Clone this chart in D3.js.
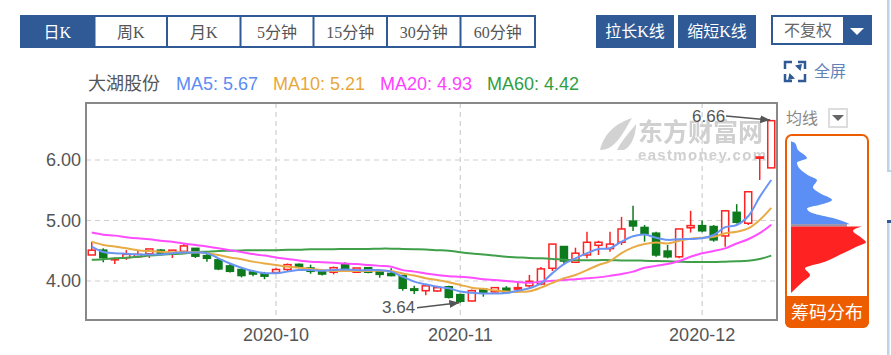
<!DOCTYPE html>
<html>
<head>
<meta charset="utf-8">
<script src="https://cdn.jsdelivr.net/npm/d3@7"></script>
<style>
  html, body { margin: 0; padding: 0; background: #fff; overflow: hidden; }
  svg { display: block; }
  text { font-family: "Liberation Sans", Arial, "Noto Sans CJK SC", sans-serif; }
  .tab text, .btn text { font-family: "Liberation Serif", "Noto Sans CJK SC", serif; font-size: 16px; }
</style>
</head>
<body>
<script>
/***** Data *****/
var tabs = ["日K", "周K", "月K", "5分钟", "15分钟", "30分钟", "60分钟"];
var buttons = ["拉长K线", "缩短K线"];
var legendItems = ["MA5: 5.67", "MA10: 5.21", "MA20: 4.93", "MA60: 4.42"];
var monthTicks = ["2020-10", "2020-11", "2020-12"];
var monthIndex = [16, 32, 53];
var priceTicks = [4, 5, 6];

var opens = [4.43,4.51,4.35,4.385,4.40,4.45,4.51,4.45,4.49,4.54,4.42,4.35,4.25,4.19,4.15,4.12,4.14,4.19,4.275,4.215,
  4.165,4.145,4.275,4.145,4.22,4.165,4.125,4.09,3.87,3.84,3.835,3.905,3.775,3.67,3.865,3.82,3.88,3.865,3.92,3.95,
  4.21,4.57,4.31,4.43,4.59,4.535,4.64,4.99,4.885,4.79,4.495,4.40,4.88,4.915,4.90,4.745,5.135,4.955,6.03,5.87];
var closes = [4.51,4.385,4.37,4.44,4.44,4.53,4.45,4.51,4.58,4.41,4.375,4.20,4.16,4.09,4.115,4.08,4.19,4.27,4.23,4.16,
  4.115,4.22,4.21,4.215,4.145,4.11,4.09,3.88,3.845,3.92,3.89,3.73,3.665,3.84,3.80,3.89,3.81,3.89,3.995,4.20,
  4.61,4.33,4.46,4.64,4.64,4.61,4.86,4.91,4.78,4.43,4.40,4.86,4.915,4.83,4.68,5.16,4.97,5.475,6.05,6.65];
var highs = [4.65,4.54,4.39,4.51,4.50,4.53,4.53,4.51,4.61,4.54,4.46,4.375,4.28,4.21,4.18,4.15,4.21,4.29,4.29,4.27,
  4.18,4.24,4.31,4.215,4.22,4.18,4.21,4.10,3.92,3.92,3.92,3.92,3.79,3.86,3.88,3.89,3.915,3.98,4.10,4.23,
  4.61,4.57,4.55,4.815,4.665,4.815,5.06,5.245,4.925,4.815,4.595,4.86,5.16,5.0,4.925,5.16,5.27,5.475,6.05,6.66];
var lows = [4.43,4.31,4.28,4.35,4.385,4.38,4.42,4.38,4.45,4.38,4.32,4.18,4.14,4.06,4.08,4.03,4.14,4.16,4.21,4.12,
  4.09,4.11,4.155,4.145,4.13,4.055,4.08,3.84,3.785,3.765,3.82,3.71,3.64,3.66,3.74,3.81,3.80,3.85,3.89,3.93,
  4.165,4.265,4.31,4.375,4.43,4.485,4.595,4.825,4.65,4.40,4.375,4.375,4.80,4.805,4.65,4.565,4.95,4.925,5.67,5.87];

var ma5 = [4.57,4.48,4.46,4.45,4.44,4.44,4.44,4.46,4.47,4.47,4.46,4.375,4.29,4.22,4.165,4.13,4.13,4.155,4.18,4.18,
  4.17,4.18,4.19,4.18,4.18,4.18,4.155,4.07,3.99,3.945,3.905,3.88,3.825,3.805,3.795,3.795,3.80,3.84,3.88,3.96,
  4.13,4.28,4.375,4.46,4.53,4.54,4.65,4.74,4.77,4.715,4.68,4.69,4.695,4.705,4.76,4.89,4.925,5.07,5.39,5.67];
var ma10 = [4.65,4.595,4.57,4.54,4.51,4.495,4.485,4.475,4.475,4.475,4.46,4.43,4.39,4.36,4.32,4.29,4.265,4.235,4.22,4.20,
  4.18,4.165,4.165,4.165,4.165,4.17,4.165,4.125,4.09,4.045,4.015,3.98,3.935,3.89,3.87,3.845,3.825,3.82,3.83,3.89,
  3.97,4.045,4.10,4.18,4.265,4.33,4.46,4.555,4.61,4.635,4.62,4.665,4.70,4.715,4.73,4.79,4.815,4.87,5.01,5.21];
var ma20 = [4.80,4.765,4.75,4.725,4.705,4.69,4.665,4.65,4.62,4.595,4.57,4.54,4.51,4.48,4.445,4.42,4.39,4.365,4.34,4.32,
  4.31,4.30,4.29,4.28,4.265,4.25,4.235,4.18,4.155,4.125,4.10,4.08,4.07,4.055,4.03,4.015,4.00,3.985,3.97,3.99,
  4.005,4.015,4.03,4.045,4.06,4.085,4.115,4.155,4.22,4.25,4.28,4.33,4.40,4.46,4.495,4.54,4.62,4.69,4.79,4.93];
var ma60 = [4.35,4.36,4.375,4.385,4.40,4.42,4.435,4.445,4.455,4.475,4.485,4.495,4.50,4.505,4.51,4.51,4.51,4.515,4.515,4.525,
  4.525,4.525,4.53,4.53,4.53,4.535,4.535,4.53,4.525,4.52,4.51,4.50,4.475,4.455,4.44,4.42,4.40,4.39,4.38,4.375,
  4.365,4.35,4.345,4.345,4.345,4.345,4.34,4.34,4.335,4.33,4.325,4.32,4.315,4.315,4.315,4.32,4.325,4.335,4.365,4.42];

// chip distribution: price level and its share
var chipBluePrices = [6.31,6.28,6.165,6.03,5.96,5.85,5.75,5.67,5.55,5.45,5.34,5.26,5.20,5.12,5.04,4.94];
var chipBlueShares = [0,4,7,16,6,9,17,26,22,29,41,29,16,22,42,59];
var chipRedPrices = [4.90,4.83,4.72,4.64,4.57,4.45,4.32,4.21,4.10,3.99,3.80];
var chipRedShares = [71,62,70,75,66,51,34,14,19,12,0];

/***** Configuration *****/
var width = 891, height = 355;
var plot = { left: 86, right: 777, top: 103, bottom: 320 };
var navy = "#2f5a96", upColor = "#ff2020", downColor = "#0a7a1e", orange = "#ee5c00";
var maColors = ["#6a95f5", "#e8ab45", "#ff4dff", "#3f9f4a"];
var legendX = [176, 273, 380, 487];
var legendColors = ["#5b8cf5", "#e8a83a", "#ff40ff", "#2f9e3f"];

var svg = d3.select("body").append("svg").attr("width", width).attr("height", height);
var defs = svg.append("defs");
defs.append("filter").attr("id", "soft").append("feGaussianBlur").attr("stdDeviation", 0.35);
defs.append("filter").attr("id", "softer").append("feGaussianBlur").attr("stdDeviation", 0.7);

/***** Scales *****/
var x = d3.scaleBand().domain(d3.range(opens.length)).range([plot.left, plot.right]);
var y = d3.scaleLinear().domain([4, 6]).range([281, 160]);
var cx = function (i) { return x(i) + x.bandwidth() / 2; };
var chipX = d3.scaleLinear().domain([0, 75]).range([791, 866]);

/***** Tabs and buttons *****/
var tabX = [20, 94.5, 167, 240.5, 313.5, 387, 460.5, 535];
svg.append("rect").attr("x", 20).attr("y", 15).attr("width", 516).attr("height", 33).attr("fill", navy);
var tab = svg.selectAll(".tab").data(tabs).enter().append("g").attr("class", "tab");
tab.append("rect")
  .attr("x", (d, i) => tabX[i] + 1)
  .attr("y", 17)
  .attr("width", (d, i) => tabX[i + 1] - tabX[i] - 2)
  .attr("height", 29)
  .attr("fill", (d, i) => i == 0 ? navy : "#fff");
tab.append("text")
  .attr("x", (d, i) => (tabX[i] + tabX[i + 1]) / 2)
  .attr("y", 38)
  .attr("text-anchor", "middle")
  .attr("fill", (d, i) => i == 0 ? "#fff" : "#555")
  .text(d => d);

var btn = svg.selectAll(".btn").data(buttons).enter().append("g").attr("class", "btn");
btn.append("rect").attr("x", (d, i) => 596 + i * 82).attr("y", 15).attr("width", 78).attr("height", 33).attr("fill", navy);
btn.append("text").attr("x", (d, i) => 635 + i * 82).attr("y", 37).attr("text-anchor", "middle").attr("fill", "#fff").text(d => d);

svg.append("rect").attr("x", 771).attr("y", 15).attr("width", 101).attr("height", 30).attr("fill", navy);
svg.append("rect").attr("x", 773).attr("y", 17).attr("width", 70).attr("height", 26).attr("fill", "#fff");
svg.append("text").attr("x", 808).attr("y", 36).attr("text-anchor", "middle").attr("fill", "#666")
  .style("font-family", '"Liberation Serif", "Noto Sans CJK SC", serif').style("font-size", "16px").text("不复权");
svg.append("path").attr("d", "M850 28h14l-7 7z").attr("fill", "#fff");

/***** Fullscreen icon *****/
svg.append("path")
  .attr("d", "M785 69v-7h7M805 69v-7h-7M785 74v7h7M805 74v7h-7")
  .attr("fill", "none").attr("stroke", navy).attr("stroke-width", 2.5);
svg.append("path").attr("d", "M802 64l-7 1.5 5.5 5.5zM788 80l7-1.5-5.5-5.5z").attr("fill", navy);
svg.append("text").attr("x", 814).attr("y", 77).attr("fill", "#5f82b8").style("font-size", "16px").text("全屏");

/***** Legend *****/
svg.append("text").attr("x", 88).attr("y", 90).attr("fill", "#555").style("font-size", "18px").text("大湖股份");
svg.selectAll(".legend").data(legendItems).enter().append("text")
  .attr("class", "legend")
  .attr("x", (d, i) => legendX[i])
  .attr("y", 90)
  .attr("fill", (d, i) => legendColors[i])
  .style("font-size", "18px")
  .text(d => d);

/***** Watermark *****/
var mark = svg.append("g").attr("filter", "url(#softer)");
mark.append("path")
  .attr("d", "M600 150C605 130 620 122 632 118C626 128 620 140 612 146C608 149 603 150 600 150Z M617 150C622 140 630 132 636 124C636 134 632 146 624 150Z")
  .attr("fill", "#d2d2d2");
mark.append("text").attr("x", 638).attr("y", 141).attr("fill", "#d0d0d0").style("font-size", "25px").style("font-weight", "bold").text("东方财富网");
mark.append("text").attr("x", 638).attr("y", 160).attr("fill", "#d0d0d0").style("font-size", "15px").style("font-weight", "bold").attr("textLength", 128).text("eastmoney.com");

/***** Axes and grid *****/
var yAxis = d3.axisLeft(y).tickValues(priceTicks).tickFormat(d3.format(".2f")).tickSize(0).tickPadding(5);
var xAxis = d3.axisBottom(x).tickValues(monthIndex).tickFormat((d, i) => monthTicks[i]).tickSize(0).tickPadding(8);
var gy = svg.append("g").attr("transform", "translate(" + plot.left + ",0)").call(yAxis);
var gx = svg.append("g").attr("transform", "translate(0," + plot.bottom + ")").call(xAxis);
[gx, gy].forEach(function (g) {
  g.select(".domain").remove();
  g.selectAll("text").attr("fill", "#555").style("font-size", "18px").style("font-family", '"Liberation Sans", Arial, sans-serif');
});
gx.selectAll("text").attr("dy", "0.71em");

var grid = svg.append("g").attr("stroke", "#cfcfcf").attr("stroke-width", 1.2).attr("stroke-dasharray", "5 4");
grid.selectAll(".h").data(priceTicks).enter().append("line")
  .attr("x1", plot.left).attr("x2", plot.right).attr("y1", d => y(d)).attr("y2", d => y(d));
grid.selectAll(".v").data(monthIndex).enter().append("line")
  .attr("x1", d => cx(d)).attr("x2", d => cx(d)).attr("y1", plot.top).attr("y2", plot.bottom);

svg.append("rect")
  .attr("x", plot.left).attr("y", plot.top)
  .attr("width", plot.right - plot.left).attr("height", plot.bottom - plot.top)
  .attr("fill", "none").attr("stroke", "#888").attr("stroke-width", 2);

/***** Candles *****/
var chart = svg.append("g").attr("filter", "url(#soft)");
var candle = chart.selectAll(".candle").data(opens).enter().append("g").attr("class", "candle");
var isUp = (i) => closes[i] >= opens[i];
candle.append("line")
  .attr("x1", (d, i) => cx(i)).attr("x2", (d, i) => cx(i))
  .attr("y1", (d, i) => y(highs[i])).attr("y2", (d, i) => y(lows[i]))
  .attr("stroke", (d, i) => isUp(i) ? upColor : downColor)
  .attr("stroke-width", 1.5);
candle.append("rect")
  .attr("x", (d, i) => cx(i) - 3.5)
  .attr("width", 7)
  .attr("y", (d, i) => y(Math.max(opens[i], closes[i])))
  .attr("height", (d, i) => Math.max(1, Math.abs(y(opens[i]) - y(closes[i]))))
  .attr("fill", (d, i) => isUp(i) ? "#fff" : downColor)
  .attr("stroke", (d, i) => isUp(i) ? upColor : downColor)
  .attr("stroke-width", 1.5);

/***** Moving averages *****/
var maLine = d3.line().x((d, i) => cx(i)).y(d => y(d)).curve(d3.curveCatmullRom);
chart.selectAll(".ma").data([ma60, ma20, ma10, ma5]).enter().append("path")
  .attr("class", "ma")
  .attr("d", maLine)
  .attr("fill", "none")
  .attr("stroke", (d, i) => maColors[3 - i])
  .attr("stroke-width", 2);

/***** Low and high labels *****/
var arrow = defs.append("marker").attr("id", "arrow").attr("viewBox", "0 0 10 8").attr("refX", 10).attr("refY", 4)
  .attr("markerWidth", 10).attr("markerHeight", 8).attr("markerUnits", "userSpaceOnUse").attr("orient", "auto");
arrow.append("path").attr("d", "M0 0L10 4L0 8Z").attr("fill", "#555");
var lowIdx = d3.minIndex(lows), highIdx = d3.maxIndex(highs);
svg.append("text").attr("x", 382).attr("y", y(lows[lowIdx]) + 10.5).attr("fill", "#555").style("font-size", "17px").text(d3.format(".2f")(lows[lowIdx]));
svg.append("line").attr("x1", 417).attr("y1", y(lows[lowIdx]) + 5).attr("x2", cx(lowIdx) - 1).attr("y2", y(lows[lowIdx]))
  .attr("stroke", "#555").attr("stroke-width", 1.5).attr("marker-end", "url(#arrow)");
svg.append("text").attr("x", 692).attr("y", y(highs[highIdx]) + 2).attr("fill", "#555").style("font-size", "17px").text(d3.format(".2f")(highs[highIdx]));
svg.append("line").attr("x1", 726).attr("y1", y(highs[highIdx]) - 4).attr("x2", cx(highIdx) - 1).attr("y2", y(highs[highIdx]))
  .attr("stroke", "#555").attr("stroke-width", 1.5).attr("marker-end", "url(#arrow)");

/***** Chip distribution panel *****/
svg.append("text").attr("x", 786).attr("y", 124).attr("fill", "#888").style("font-size", "16px").text("均线");
svg.append("rect").attr("x", 829).attr("y", 109).attr("width", 18).attr("height", 18).attr("fill", "#fff").attr("stroke", "#ddd").attr("stroke-width", 2);
svg.append("path").attr("d", "M832 115h12l-6 6z").attr("fill", "#666");

svg.append("rect").attr("x", 786).attr("y", 135).attr("width", 82).attr("height", 192).attr("rx", 6)
  .attr("fill", "#fff").attr("stroke", orange).attr("stroke-width", 2);
svg.append("path").attr("d", "M785 296H869V322a6 6 0 0 1 -6 6H791a6 6 0 0 1 -6 -6Z").attr("fill", orange);
svg.append("text").attr("x", 827).attr("y", 319).attr("text-anchor", "middle").attr("fill", "#fff").style("font-size", "18px").text("筹码分布");

var chipArea = function (prices) {
  return d3.area().y((d, i) => y(prices[i])).x0(chipX(0)).x1(d => chipX(d)).curve(d3.curveMonotoneY);
};
var chips = svg.append("g").attr("filter", "url(#soft)");
chips.append("path").attr("d", chipArea(chipBluePrices)(chipBlueShares)).attr("fill", "#5b8ff5");
chips.append("rect").attr("x", chipX(0)).attr("width", chipX(56) - chipX(0))
  .attr("y", y(chipBluePrices[15])).attr("height", y(chipRedPrices[0]) - y(chipBluePrices[15])).attr("fill", "#9a8fa8");
chips.append("path").attr("d", chipArea(chipRedPrices)(chipRedShares)).attr("fill", upColor);

/***** Edge of the next panel *****/
svg.append("rect").attr("x", 887).attr("y", 0).attr("width", 2.5).attr("height", 172).attr("fill", "#bcd4ea");
svg.append("rect").attr("x", 887).attr("y", 170).attr("width", 4).attr("height", 2).attr("fill", "#bcd4ea");
svg.append("rect").attr("x", 887).attr("y", 223).attr("width", 2.5).attr("height", 132).attr("fill", "#bcd4ea");
svg.append("rect").attr("x", 887).attr("y", 220).attr("width", 4).attr("height", 3).attr("fill", navy);
</script>
</body>
</html>
